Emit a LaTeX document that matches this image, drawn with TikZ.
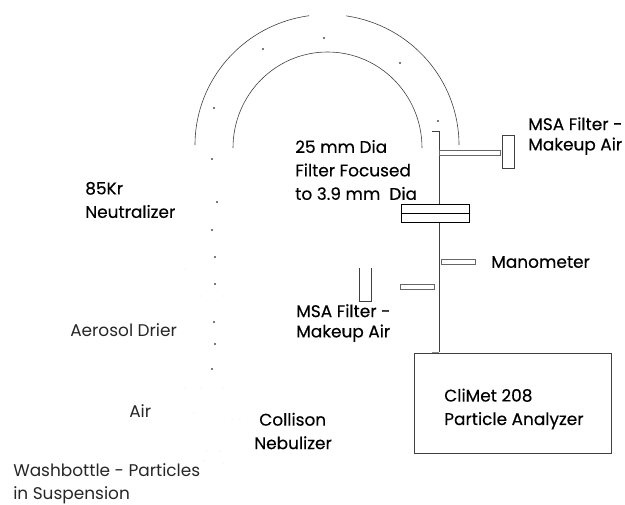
\documentclass[tikz,border=0pt]{standalone}
\usepackage{fontspec}
\setmainfont{Poppins}
\newfontfamily\heavier[FakeBold=0.25]{Poppins}
\newcommand{\wide}{\heavier\fontsize{12.7}{17.6}\selectfont}
\newcommand{\tight}{\heavier\fontsize{12.7}{15.2}\selectfont}
\newcommand{\plain}{\fontsize{12.7}{17.4}\selectfont}
\tikzset{
  ln/.style={draw=black!75,line width=0.45pt},
  tube/.style={draw=black!60,line width=0.6pt,fill=white},
  lab/.style={anchor=west,align=left,inner sep=0pt,font=\wide,text=black},
  labtight/.style={lab,font=\tight},
  lablight/.style={lab,font=\plain,text=black!85},
  spot/.style={circle,fill=black!70,inner sep=0pt,minimum size=1.6pt},
  faint/.style={circle,fill=black!25,inner sep=0pt,minimum size=0.7pt}
}
\begin{document}
\begin{tikzpicture}[x=0.75pt,y=-0.75pt]
\useasboundingbox (0,0) rectangle (625,504);
% arcs
\draw[ln] (195,145) arc[start angle=180,end angle=262.2,x radius=132,y radius=130.5];
\draw[ln] (459,145) arc[start angle=0,end angle=-81.7,x radius=132,y radius=130.5];
\draw[ln] (233,148) arc[start angle=180,end angle=360,x radius=94.5,y radius=96];
% main line
\coordinate (capL) at (432,131);
\coordinate (capR) at (439,131);
\coordinate (stub) at (432,352);
\coordinate (base) at (439,352);
\draw[ln] (capL) -- (capR) -- (base);
\draw[draw=black!45,line width=0.7pt] (stub) -- (base);
% boxes
\node[ln,fill=white,minimum width=197pt*0.75,minimum height=100pt*0.75,inner sep=0pt,anchor=north west] (analyzer) at (414,353) {};
\node[tube,anchor=north west,minimum width=61pt*0.75,minimum height=5pt*0.75,inner sep=0pt] (tubeA) at (439,150) {};
\node[ln,fill=white,anchor=north west,minimum width=12pt*0.75,minimum height=33pt*0.75,inner sep=0pt] (filterA) at (502,135) {};
\node[ln,fill=white,draw=black,anchor=north west,minimum width=68pt*0.75,minimum height=18pt*0.75,inner sep=0pt] (holder) at (401,204) {};
\draw[draw=black,line width=0.5pt] (holder.west) -- (holder.east);
\node[tube,anchor=north west,minimum width=34pt*0.75,minimum height=5pt*0.75,inner sep=0pt] (mano) at (441,259) {};
\node[tube,anchor=north west,minimum width=34pt*0.75,minimum height=5pt*0.75,inner sep=0pt] (tubeB) at (400,284) {};
\coordinate (fa) at (359,268); \coordinate (fb) at (359,301); \coordinate (fc) at (371,301); \coordinate (fd) at (371,268);
\draw[ln] (fa) -- (fb) -- (fc) -- (fd);
% dots
\foreach \p in {(324,38),(263,49),(400,63),(214,108),(438,121),(212,159),(217,202),(212,230),(215,257),(215,284),(214,322),(215,344),(212,369)}
  \node[spot] at \p {};
\foreach \p in {(185,269),(201,296),(223,296),(185,388),(201,388),(223,388),(194,413),(232,419),(240,419),(207,451),(220,451),(204,461),(223,463)}
  \node[faint] at \p {};
% labels
\node[lab] (t1) at (295,170) {25 mm Dia\\Filter Focused\\to 3.9 mm\ \ Dia};
\node[labtight] (t2) at (528,136) {MSA Filter -\\Makeup Air};
\node[lab] (t3) at (491,262) {Manometer};
\node[labtight] (t4) at (296,323) {MSA Filter -\\Makeup Air};
\node[lab] (t5) at (444,409) {CliMet 208\\Particle Analyzer};
\node[lab] (t6) at (85,200) {85Kr\\Neutralizer};
\node[lablight] (t7) at (70,330) {Aerosol Drier};
\node[lablight] (t8) at (129,411) {Air};
\node[lab] (t9) at (254,431) {\hspace*{3.75pt}Collison\\Nebulizer};
\node[lablight] (t10) at (13,484) {Washbottle - Particles\\in Suspension};
\end{tikzpicture}
\end{document}
